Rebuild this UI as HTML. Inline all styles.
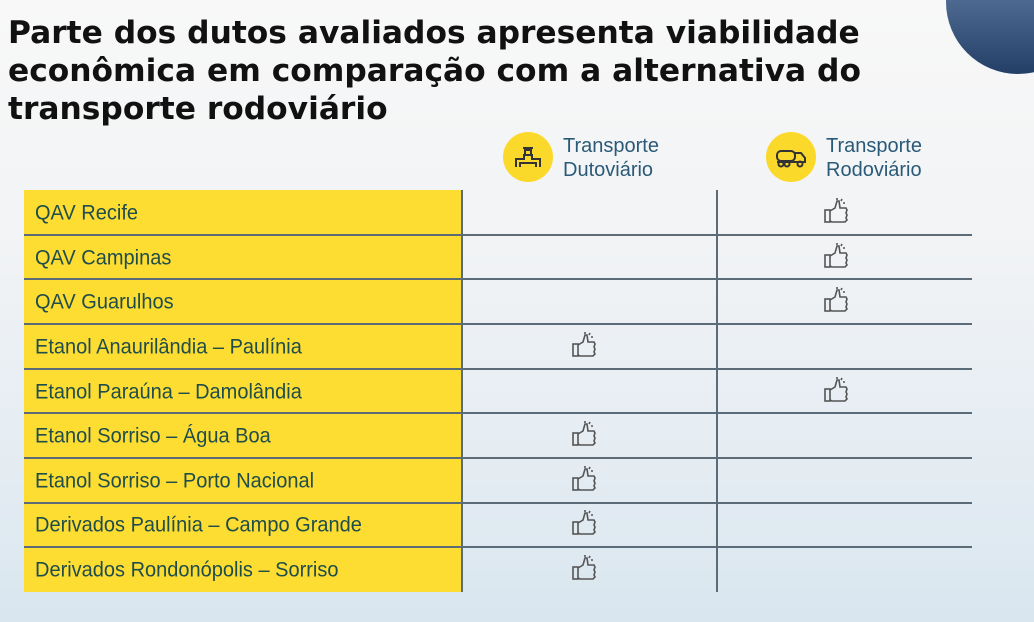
<!DOCTYPE html>
<html><head><meta charset="utf-8"><style>
body{margin:0;width:1034px;height:622px;overflow:hidden;position:relative;font-family:"Liberation Sans",sans-serif;
background:linear-gradient(180deg,#f8f8f8 0%,#f1f3f5 40%,#e2ebf2 80%,#d9e6ef 100%);}
.circ{position:absolute;left:946px;top:-70px;width:144px;height:144px;border-radius:50%;background:linear-gradient(180deg,#7f94b4 0%,#4d6890 50%,#243f66 100%);}
h1{position:absolute;left:8px;top:14px;margin:0;font-family:"DejaVu Sans",sans-serif;font-size:31.3px;line-height:38px;font-weight:bold;color:#111;white-space:nowrap;}
.hd{position:absolute;font-size:20px;line-height:24px;color:#2a5a78;}
.ic{position:absolute;width:50px;height:50px;border-radius:50%;background:#fbd92a;}
.yel{position:absolute;left:24px;top:190px;width:438px;height:402px;background:#fedd33;}
.row{position:absolute;left:35px;font-size:20px;color:#1f4d4a;transform:scaleY(1.05);transform-origin:left center;}
.hl{position:absolute;left:24px;width:948px;height:2px;background:#5b6c78;}
.vl{position:absolute;top:190px;width:2px;height:402px;background:#5b6c78;}
.th{position:absolute;width:28px;height:30px;}
</style></head><body>
<div class="circ"></div>
<h1>Parte dos dutos avaliados apresenta viabilidade<br>econômica em comparação com a alternativa do<br>transporte rodoviário</h1>
<div class="ic" style="left:503px;top:132px"><svg width="50" height="50" viewBox="0 0 50 50" fill="none" stroke="#333" stroke-width="2"><path d="M13 35v-8h8v-4h8v4h8v8M17 35v-4h16v4M22 23v-5h6v5M20 16h10"/></svg></div>
<div class="hd" style="left:563px;top:134px">Transporte<br>Dutoviário</div>
<div class="ic" style="left:766px;top:132px"><svg width="50" height="50" viewBox="0 0 50 50" fill="none" stroke="#333" stroke-width="2"><rect x="11" y="19" width="18" height="10" rx="4"/><path d="M29 21h6l4 5v4H11"/><circle cx="15" cy="32" r="2.5"/><circle cx="21" cy="32" r="2.5"/><circle cx="34" cy="32" r="2.5"/></svg></div>
<div class="hd" style="left:826px;top:134px">Transporte<br>Rodoviário</div>
<div class="yel"></div>
<div class="vl" style="left:461px"></div><div class="vl" style="left:716px"></div>
<div class="hl" style="top:234px"></div><div class="hl" style="top:278px"></div><div class="hl" style="top:323px"></div><div class="hl" style="top:368px"></div><div class="hl" style="top:412px"></div><div class="hl" style="top:457px"></div><div class="hl" style="top:502px"></div><div class="hl" style="top:546px"></div>
<div class="row" style="top:202px">QAV Recife</div>
<div class="row" style="top:247px">QAV Campinas</div>
<div class="row" style="top:291px">QAV Guarulhos</div>
<div class="row" style="top:336px">Etanol Anaurilândia – Paulínia</div>
<div class="row" style="top:381px">Etanol Paraúna – Damolândia</div>
<div class="row" style="top:425px">Etanol Sorriso – Água Boa</div>
<div class="row" style="top:470px">Etanol Sorriso – Porto Nacional</div>
<div class="row" style="top:514px">Derivados Paulínia – Campo Grande</div>
<div class="row" style="top:559px">Derivados Rondonópolis – Sorriso</div>
<svg width="0" height="0" style="position:absolute"><defs><g id="t" fill="none" stroke="#555" stroke-width="1.6"><rect x="2" y="13" width="5" height="12"/><path d="M7 14l5-3 2-7h2l1 7h6l1 2-1 3 1 2-1 3 1 2-2 2H9l-2-1"/><path d="M14 1v2M19 2l-1 2M22 6h-2"/></g></defs></svg>
<svg class="th" style="left:823px;top:197px"><use href="#t"/></svg>
<svg class="th" style="left:823px;top:242px"><use href="#t"/></svg>
<svg class="th" style="left:823px;top:286px"><use href="#t"/></svg>
<svg class="th" style="left:571px;top:331px"><use href="#t"/></svg>
<svg class="th" style="left:823px;top:376px"><use href="#t"/></svg>
<svg class="th" style="left:571px;top:420px"><use href="#t"/></svg>
<svg class="th" style="left:571px;top:465px"><use href="#t"/></svg>
<svg class="th" style="left:571px;top:509px"><use href="#t"/></svg>
<svg class="th" style="left:571px;top:554px"><use href="#t"/></svg>
</body></html>
